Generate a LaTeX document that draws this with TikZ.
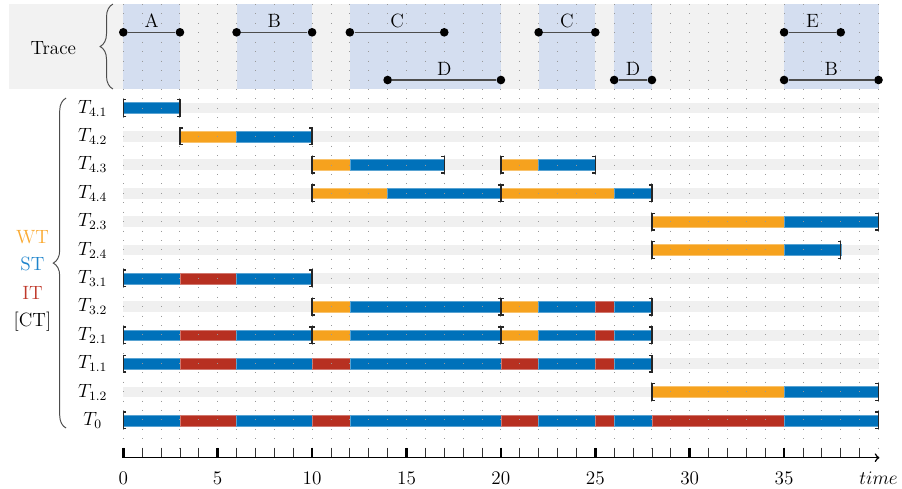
\documentclass[tikz,border=0pt]{standalone}
\usepackage{amsmath}
\usepackage{tikz}
\usetikzlibrary{decorations.pathreplacing}

\definecolor{stcol}{RGB}{0,113,186}
\definecolor{wtcol}{RGB}{246,162,30}
\definecolor{itcol}{RGB}{183,48,33}
\definecolor{stlab}{RGB}{30,132,204}
\definecolor{wtlab}{RGB}{250,170,50}
\definecolor{itlab}{RGB}{192,57,43}
\definecolor{tracebg}{RGB}{242,242,242}
\definecolor{traceblue}{RGB}{212,222,240}
\definecolor{rowband}{RGB}{240,240,240}

\def\rowdata{%
11/{4.1}/{0/3/st}/{0/.16,3/-.16},%
10/{4.2}/{3/6/wt,6/10/st}/{3/.16,10/-.16},%
9/{4.3}/{10/12/wt,12/17/st,20/22/wt,22/25/st}/{10/.16,17/-.16,20/.16,25/-.16},%
8/{4.4}/{10/14/wt,14/20/st,20/26/wt,26/28/st}/{10/.16,20/-.16,20/.16,28/-.16},%
7/{2.3}/{28/35/wt,35/40/st}/{28/.16,40/-.16},%
6/{2.4}/{28/35/wt,35/38/st}/{28/.16,38/-.16},%
5/{3.1}/{0/3/st,3/6/it,6/10/st}/{0/.16,10/-.16},%
4/{3.2}/{10/12/wt,12/20/st,20/22/wt,22/25/st,25/26/it,26/28/st}/{10/.16,20/-.16,20/.16,28/-.16},%
3/{2.1}/{0/3/st,3/6/it,6/10/st,10/12/wt,12/20/st,20/22/wt,22/25/st,25/26/it,26/28/st}/{0/.16,10/-.16,10/.16,20/-.16,20/.16,28/-.16},%
2/{1.1}/{0/3/st,3/6/it,6/10/st,10/12/it,12/20/st,20/22/it,22/25/st,25/26/it,26/28/st}/{0/.16,28/-.16},%
1/{1.2}/{28/35/wt,35/40/st}/{28/.16,40/-.16},%
0/{0}/{0/3/st,3/6/it,6/10/st,10/12/it,12/20/st,20/22/it,22/25/st,25/26/it,26/28/st,28/35/it,35/40/st}/{0/.16,40/-.16}%
}

\begin{document}
\begin{tikzpicture}[x=11.8pt, y=17.75pt,
        every node/.style={font=\fontsize{12}{14}\selectfont},
        seg/.style={fill=#1col, draw=#1col!65!white, line width=.3pt},
        brk/.style={line width=.9pt, black!85},
        gridline/.style={gray!80, line width=.6pt, dash pattern=on .6pt off 5.3pt},
        dot/.style={circle, fill=black, inner sep=0pt, minimum size=5.4pt},
        tline/.style={black!70, line width=.8pt},
        curly/.style={decorate, decoration={brace, amplitude=8pt}, black!70, line width=.6pt}]

    \useasboundingbox (-6.531,-2.415) rectangle (41.245,14.803);

    % trace
    \fill[tracebg] (-6.05,11.669) rectangle (40,14.662);
    \foreach \a/\b in {0/3,6/10,12/20,22/25,26/28,35/40}
        \fill[traceblue] (\a,11.669) rectangle (\b,14.662);
    \node (trace) at (-3.71,13.11) {Trace};
    \draw[curly] (-0.55,11.67) -- (-0.55,14.66);

    % tasks
    \foreach \r/\lab/\segs/\brks in \rowdata {
        \fill[rowband] (0,\r-.19) rectangle (40,\r+.19);
        \node (lab\r) at (-1.62,\r) {$T_{\lab}$};
        \foreach \a/\b/\c in \segs
            \draw[seg=\c] (\a,\r-.19) rectangle (\b,\r+.19);
    }

    \foreach \x in {0,...,40}
        \draw[gridline] (\x,14.66) -- (\x,-0.97);

    \foreach \n/\a/\b/\y/\l in {a/0/3/13.665/A, b/6/10/13.665/B, c/12/17/13.665/C,
            d/14/20/11.986/D, cc/22/25/13.665/C, dd/26/28/11.986/D,
            e/35/38/13.665/E, bb/35/40/11.986/B} {
        \node[dot] (\n0) at (\a,\y) {};
        \node[dot] (\n1) at (\b,\y) {};
        \draw[tline] (\n0) -- node[above=-1pt, black] (\n-l) {\l} (\n1);
    }

    \foreach \r/\lab/\segs/\brks in \rowdata {
        \foreach \x/\s in \brks
            \draw[brk] ({\x+(\s)},\r-.29) -- (\x,\r-.29) -- (\x,\r+.29) -- ({\x+(\s)},\r+.29);
    }

    % legend
    \node[wtlab] (wt) at (-4.81,6.46) {WT};
    \node[stlab] (st) at (-4.81,5.51) {ST};
    \node[itlab] (it) at (-4.81,4.49) {IT};
    \node (ct) at (-4.81,3.47) {[CT]};
    \draw[curly] (-3.03,-0.27) -- (-3.03,11.35);

    % time axis
    \coordinate (o) at (0,-1.313);
    \coordinate (tend) at (40.05,-1.313);
    \foreach \x in {0,...,39}
        \draw[black!80, line width=.5pt] (\x,-0.97) -- (\x,-1.313);
    \foreach \x in {0,5,...,35} {
        \draw[line width=1.6pt] (\x,-0.97) -- (\x,-1.313);
        \node (tk\x) at (\x,-2.03) {\x};
    }
    \draw[->, line width=1pt] (o) -- (tend);
    \node (tlab) at (40,-2.03) {$time$};
\end{tikzpicture}
\end{document}
